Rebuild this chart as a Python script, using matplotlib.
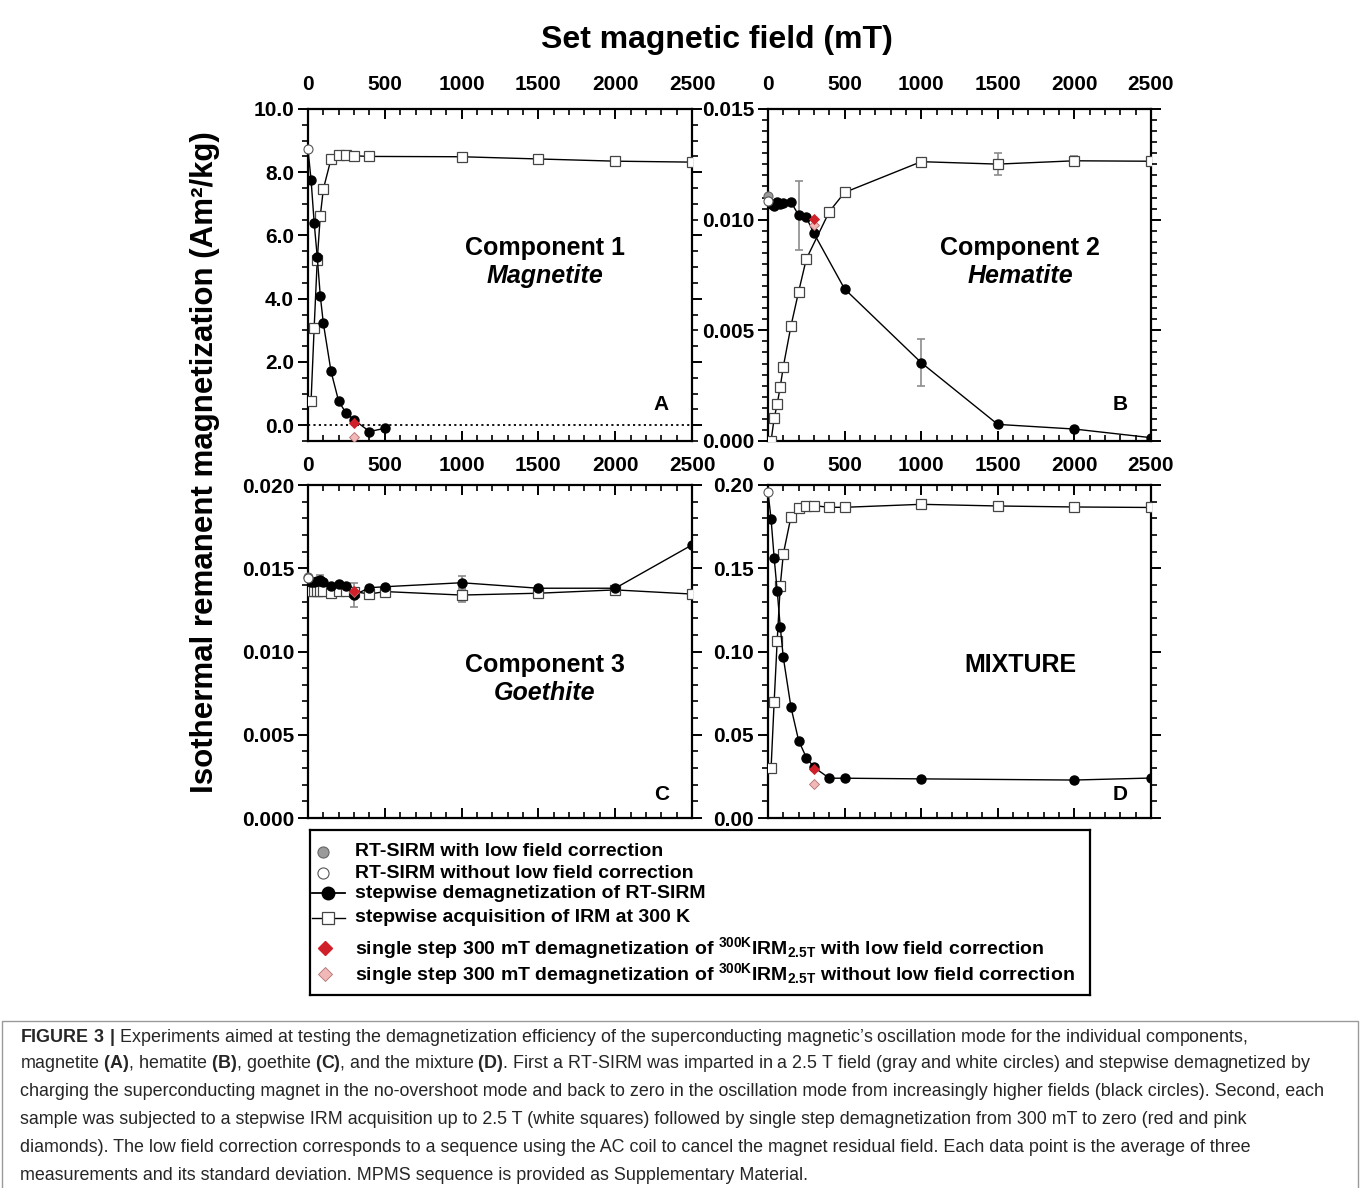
import matplotlib
matplotlib.use("Agg")
import matplotlib.pyplot as plt
from matplotlib import font_manager
from matplotlib.ticker import MultipleLocator, FormatStrFormatter
from matplotlib.patches import Rectangle


W, H = 1360, 1188

names = set(f.name for f in font_manager.fontManager.ttflist)
NARROW = "Liberation Sans Narrow" if "Liberation Sans Narrow" in names else "Liberation Sans"

plt.rcParams["font.family"] = ["Liberation Sans", "DejaVu Sans"]
plt.rcParams["font.weight"] = "bold"
plt.rcParams["mathtext.fontset"] = "custom"
plt.rcParams["mathtext.rm"] = NARROW
plt.rcParams["mathtext.bf"] = NARROW + ":bold"

# ---- Panel A : magnetite ----
a_rt_white = [8.72]
a_demag_x = [20, 40, 60, 80, 100, 150, 200, 250, 300, 400, 500]
a_demag_y = [7.76, 6.41, 5.33, 4.09, 3.22, 1.70, 0.75, 0.37, 0.17, -0.20, -0.10]
a_acq_x = [20, 40, 60, 80, 100, 150, 200, 250, 300, 400, 1000, 1500, 2000, 2500]
a_acq_y = [0.77, 3.07, 5.21, 6.62, 7.47, 8.42, 8.55, 8.55, 8.52, 8.50, 8.49, 8.42, 8.35, 8.32]
a_red = [0.08]
a_pink = [-0.36]

# ---- Panel B : hematite ----
b_rt_gray = [0.01108]
b_rt_white = [0.01084]
b_demag_x = [20, 40, 60, 80, 100, 150, 200, 250, 300, 500, 1000, 1500, 2000, 2500]
b_demag_y = [0.0107, 0.0106, 0.0108, 0.0107, 0.01075, 0.0108, 0.0102, 0.0101,
             0.00938, 0.00687, 0.00354, 0.00075, 0.00054, 0.00015]
b_demag_err = [0, 0, 0, 0, 0, 0, 0.00155, 0, 0, 0, 0.00107, 0, 0, 0]
b_acq_x = [20, 40, 60, 80, 100, 150, 200, 250, 400, 500, 1000, 1500, 2000, 2500]
b_acq_y = [0.0, 0.00102, 0.00167, 0.00245, 0.00336, 0.0052, 0.00675, 0.00822,
           0.01036, 0.01123, 0.01262, 0.01251, 0.01266, 0.01264]
b_acq_err = [0, 0, 0, 0, 0, 0, 0, 0, 0, 0, 0.00015, 0.0005, 0.0002, 0]
b_red = [0.01001]
b_pink = [0.00976]

# ---- Panel C : goethite ----
c_rt_gray = [0.01446]
c_rt_white = [0.01440]
c_demag_x = [20, 40, 60, 80, 100, 150, 200, 250, 300, 400, 500, 1000, 1500, 2000, 2500]
c_demag_y = [0.01419, 0.01419, 0.01425, 0.0143, 0.0142, 0.01395, 0.01405, 0.01395,
             0.01339, 0.01383, 0.01389, 0.01413, 0.0138, 0.0138, 0.0164]
c_demag_err = [0, 0, 0, 0.0003, 0, 0, 0, 0, 0.0007, 0, 0, 0.0004, 0, 0, 0]
c_acq_x = [20, 40, 60, 80, 100, 150, 200, 250, 300, 400, 500, 1000, 1500, 2000, 2500]
c_acq_y = [0.01365, 0.01365, 0.01365, 0.01365, 0.01365, 0.0135, 0.01365, 0.01365,
           0.0136, 0.01345, 0.0136, 0.01339, 0.0135, 0.0137, 0.01345]
c_acq_err = [0, 0, 0, 0, 0, 0, 0, 0, 0, 0, 0, 0.0004, 0, 0, 0]
c_red = [0.01365]
c_pink = [0.0136]

# ---- Panel D : mixture ----
d_rt_white = [0.196]
d_demag_x = [20, 40, 60, 80, 100, 150, 200, 250, 300, 400, 500, 1000, 2000, 2500]
d_demag_y = [0.1796, 0.1564, 0.1365, 0.1149, 0.0964, 0.0665, 0.0465, 0.0363,
             0.0305, 0.0239, 0.0239, 0.0235, 0.0228, 0.0240]
d_acq_x = [20, 40, 60, 80, 100, 150, 200, 250, 300, 400, 500, 1000, 1500, 2000, 2500]
d_acq_y = [0.0298, 0.0694, 0.1065, 0.1395, 0.1586, 0.181, 0.186, 0.1876, 0.1876,
           0.1866, 0.1866, 0.1884, 0.1874, 0.1868, 0.1865]
d_red = [0.0294]
d_pink = [0.0204]

SINGLE_STEP = 300

RED = "#d0202a"
PINK = "#f2b8b8"
GRAY = "#9a9a9a"
ERR = "#8c8c8c"
MS = 6.5


def px_axes(fig, left, top, right, bottom):
    return fig.add_axes([left / W, 1 - bottom / H, (right - left) / W, (bottom - top) / H])


def draw_panel(ax, demag_x, demag_y, acq_x, acq_y, red, pink, rt_white, rt_gray=None,
               demag_err=None, acq_err=None):
    if acq_err is not None:
        ax.errorbar(acq_x, acq_y, yerr=acq_err, fmt="none", ecolor=ERR, elinewidth=1.2,
                    capsize=3, capthick=1.2, zorder=2)
    if demag_err is not None:
        ax.errorbar(demag_x, demag_y, yerr=demag_err, fmt="none", ecolor=ERR, elinewidth=1.2,
                    capsize=3, capthick=1.2, zorder=2)
    ax.plot(acq_x, acq_y, color="black", lw=1.0, marker="s", ms=MS, mfc="white",
            mec="#444444", mew=0.9, zorder=3)
    start = rt_white[0] if rt_gray is None else rt_gray[0]
    ax.plot([0] + demag_x, [start] + demag_y, color="black", lw=1.0, zorder=4)
    ax.plot(demag_x, demag_y, ls="none", marker="o", ms=MS, mfc="black", mec="black", zorder=5)
    if rt_gray is not None:
        ax.plot([0], rt_gray, ls="none", marker="o", ms=MS, mfc=GRAY, mec="#666666",
                mew=0.8, zorder=6, clip_on=False)
    ax.plot([0], rt_white, ls="none", marker="o", ms=MS, mfc="white", mec="#555555",
            mew=0.8, zorder=6, clip_on=False)
    ax.plot([SINGLE_STEP], pink, ls="none", marker="D", ms=5, mfc=PINK, mec="#b07070",
            mew=0.6, zorder=7)
    ax.plot([SINGLE_STEP], red, ls="none", marker="D", ms=5, mfc=RED, mec=RED,
            mew=0.6, zorder=8)


def style_axes(ax, ylim, ymaj, ymin, yfmt, top_row):
    ax.set_xlim(0, 2500)
    ax.set_ylim(*ylim)
    ax.xaxis.set_major_locator(MultipleLocator(500))
    ax.xaxis.set_minor_locator(MultipleLocator(100))
    ax.yaxis.set_major_locator(MultipleLocator(ymaj))
    ax.yaxis.set_minor_locator(MultipleLocator(ymin))
    ax.yaxis.set_major_formatter(FormatStrFormatter(yfmt))
    for s in ax.spines.values():
        s.set_linewidth(1.6)
    ax.tick_params(axis="x", which="both", direction="in", top=True, bottom=True,
                   labeltop=top_row, labelbottom=top_row, labelsize=15, pad=11)
    ax.tick_params(axis="y", which="both", direction="out", left=True, right=True,
                   labelleft=True, labelright=False, labelsize=15, pad=3)
    ax.tick_params(which="major", length=7, width=1.4)
    ax.tick_params(which="minor", length=4, width=1.2)
    for lab in ax.get_xticklabels() + ax.get_yticklabels():
        lab.set_fontweight("bold")


fig = plt.figure(figsize=(W / 100, H / 100), dpi=100)

ax_a = px_axes(fig, 308, 109, 692, 441)
ax_b = px_axes(fig, 768, 109, 1151, 441)
ax_c = px_axes(fig, 308, 485, 692, 818)
ax_d = px_axes(fig, 768, 485, 1151, 818)

draw_panel(ax_a, a_demag_x, a_demag_y, a_acq_x, a_acq_y, a_red, a_pink, a_rt_white)
ax_a.axhline(0, color="black", lw=1.3, ls=(0, (1.2, 1.8)), zorder=1)
style_axes(ax_a, (-0.5, 10.0), 2.0, 0.5, "%.1f", True)

draw_panel(ax_b, b_demag_x, b_demag_y, b_acq_x, b_acq_y, b_red, b_pink, b_rt_white,
           rt_gray=b_rt_gray, demag_err=b_demag_err, acq_err=b_acq_err)
style_axes(ax_b, (0, 0.015), 0.005, 0.0005, "%.3f", True)

draw_panel(ax_c, c_demag_x, c_demag_y, c_acq_x, c_acq_y, c_red, c_pink, c_rt_white,
           rt_gray=c_rt_gray, demag_err=c_demag_err, acq_err=c_acq_err)
style_axes(ax_c, (0, 0.020), 0.005, 0.001, "%.3f", False)

draw_panel(ax_d, d_demag_x, d_demag_y, d_acq_x, d_acq_y, d_red, d_pink, d_rt_white)
style_axes(ax_d, (0, 0.20), 0.05, 0.01, "%.2f", False)

panel_text = [
    (ax_a, "Component 1", "Magnetite", "A", 0.617, 0.581),
    (ax_b, "Component 2", "Hematite", "B", 0.659, 0.581),
    (ax_c, "Component 3", "Goethite", "C", 0.617, 0.459),
    (ax_d, "MIXTURE", None, "D", 0.659, 0.459),
]
for ax, name, mineral, letter, tx, ty in panel_text:
    ax.text(tx, ty, name, transform=ax.transAxes, ha="center", va="center",
            fontsize=18, fontweight="bold")
    if mineral:
        ax.text(tx, ty - 0.084, mineral, transform=ax.transAxes, ha="center", va="center",
                fontsize=18, fontweight="bold", style="italic")
    ax.text(0.92, 0.11 if ax in (ax_a, ax_b) else 0.07, letter, transform=ax.transAxes,
            ha="center", va="center", fontsize=15, fontweight="bold")

fig.text(717 / W, 1 - 40 / H, "Set magnetic field (mT)", ha="center", va="center",
         fontsize=23, fontweight="bold")
fig.text(205 / W, 1 - 462 / H, "Isothermal remanent magnetization (Am\u00b2/kg)",
         ha="center", va="center", rotation=90, fontsize=22.5, fontweight="bold")

# ---- legend box ----
lg = px_axes(fig, 310, 830, 1090, 995)
lg.set_xlim(310, 1090)
lg.set_ylim(995, 830)
lg.set_xticks([])
lg.set_yticks([])
for s in lg.spines.values():
    s.set_linewidth(1.6)

rows = [852, 873, 893, 918, 948, 974]
lg.plot([323], [rows[0]], marker="o", ms=8, mfc=GRAY, mec="#666666", mew=0.8, ls="none")
lg.plot([323], [rows[1]], marker="o", ms=8, mfc="white", mec="#555555", mew=0.8, ls="none")
lg.plot([312, 345], [rows[2], rows[2]], color="black", lw=1.3)
lg.plot([328], [rows[2]], marker="o", ms=9, mfc="black", mec="black", ls="none")
lg.plot([312, 345], [rows[3], rows[3]], color="black", lw=1.0)
lg.plot([328], [rows[3]], marker="s", ms=9, mfc="white", mec="#444444", mew=0.9, ls="none")
lg.plot([325], [rows[4]], marker="D", ms=7, mfc=RED, mec=RED, ls="none")
lg.plot([325], [rows[5]], marker="D", ms=7, mfc=PINK, mec="#b07070", mew=0.6, ls="none")

legend_labels = [
    "RT-SIRM with low field correction",
    "RT-SIRM without low field correction",
    "stepwise demagnetization of RT-SIRM",
    "stepwise acquisition of IRM at 300 K",
    r"single step 300 mT demagnetization of $\mathbf{^{300K}IRM_{2.5T}}$ with low field correction",
    r"single step 300 mT demagnetization of $\mathbf{^{300K}IRM_{2.5T}}$ without low field correction",
]
for y, lab in zip(rows, legend_labels):
    lg.text(355, y, lab, ha="left", va="center", fontsize=14, fontweight="bold",
            family=NARROW)

# ---- caption ----
cap = fig.add_axes([0, 0, 1, 1], facecolor="none")
cap.set_xlim(0, W)
cap.set_ylim(H, 0)
cap.axis("off")
cap.add_patch(Rectangle((2, 1021), W - 4, H - 1021 + 5, fill=False, ec="#9a9a9a", lw=1.0))

caption_lines = [
    r"$\mathbf{FIGURE\ 3\ |}$ Experiments aimed at testing the demagnetization efficiency of the superconducting magnetic" + "\u2019" + "s oscillation mode for the individual components,",
    r"magnetite $\mathbf{(A)}$, hematite $\mathbf{(B)}$, goethite $\mathbf{(C)}$, and the mixture $\mathbf{(D)}$. First a RT-SIRM was imparted in a 2.5 T field (gray and white circles) and stepwise demagnetized by",
    "charging the superconducting magnet in the no-overshoot mode and back to zero in the oscillation mode from increasingly higher fields (black circles). Second, each",
    "sample was subjected to a stepwise IRM acquisition up to 2.5 T (white squares) followed by single step demagnetization from 300 mT to zero (red and pink",
    "diamonds). The low field correction corresponds to a sequence using the AC coil to cancel the magnet residual field. Each data point is the average of three",
    "measurements and its standard deviation. MPMS sequence is provided as Supplementary Material.",
]
cap_rows = [1037, 1064, 1092, 1120, 1147, 1175]
for y, line in zip(cap_rows, caption_lines):
    cap.text(20, y, line, ha="left", va="center", fontsize=12.9, fontweight="normal",
             family=NARROW, color="#262626")

fig.savefig("out.png", dpi=100)
